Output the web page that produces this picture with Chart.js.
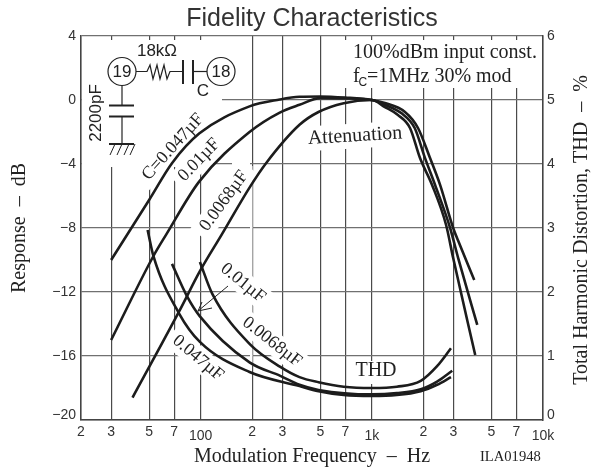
<!DOCTYPE html>
<html>
<head>
<meta charset="utf-8">
<style>
  html, body { margin: 0; padding: 0; background: #fff; }
  canvas { display: block; }
</style>
<script src="https://cdn.jsdelivr.net/npm/chart.js@4/dist/chart.umd.min.js"></script>
</head>
<body>
<canvas id="chart" width="597" height="469"></canvas>
<script>
// Tick labels
const xTickValues = [20, 30, 50, 70, 100, 200, 300, 500, 700, 1000, 2000, 3000, 5000, 7000, 10000];
const xTickLabels = ['2', '3', '5', '7', '100', '2', '3', '5', '7', '1k', '2', '3', '5', '7', '10k'];

// Response in dB
const attn047Freq = [30, 50, 68, 98, 193, 290, 378, 500, 700, 1000, 1192, 1562, 1861, 2188, 2505, 2987, 3195, 3966];
const attn047Db = [-10, -6.25, -3.95, -2.1, -0.4, 0.03, 0.2, 0.22, 0.15, 0, -0.19, -0.75, -1.75, -3.63, -5.31, -8, -8.8, -11.25];
const attn01Freq = [30, 53, 63, 98, 193, 288, 378, 500, 700, 1000, 1192, 1500, 1780, 2046, 2342, 2867, 3195, 4130];
const attn01Db = [-15, -9.75, -8.4, -5.1, -2, -0.8, -0.3, 0.12, 0.1, 0, -0.3, -0.85, -1.75, -3.63, -5.31, -8, -9.88, -14.06];
const attn0068Freq = [40, 75, 99, 133, 195, 241, 378, 488, 685, 1000, 1192, 1421, 1671, 1912, 2249, 2716, 2987, 4018];
const attn0068Db = [-18.6, -13.2, -10.7, -8.4, -5.4, -3.95, -1.55, -0.75, -0.2, 0, -0.44, -0.94, -1.75, -3.63, -5.31, -7.81, -9.88, -15.94];

// Distortion in %
const thd047Freq = [49, 53, 75, 99, 193, 378, 488, 685, 1000, 1400, 1930, 2405, 2900];
const thd047Pct = [2.97, 2.56, 1.66, 1.22, 0.75, 0.53, 0.45, 0.39, 0.375, 0.39, 0.45, 0.55, 0.67];
const thd01Freq = [68, 83, 99, 193, 292, 378, 488, 1000, 1400, 1930, 2405, 2950];
const thd01Pct = [2.44, 1.94, 1.62, 0.9, 0.69, 0.55, 0.47, 0.4, 0.42, 0.48, 0.6, 0.77];
const thd0068Freq = [99, 117, 193, 292, 378, 488, 685, 1000, 1400, 1930, 2405, 2900];
const thd0068Pct = [2.47, 1.97, 1.19, 0.83, 0.67, 0.59, 0.52, 0.5, 0.52, 0.61, 0.84, 1.12];

const SANS = '"Liberation Sans", Arial, sans-serif';
const SERIF = '"Liberation Serif", "Times New Roman", serif';
const INK = '#222';

const toPoints = (xs, ys) => xs.map((x, i) => ({ x: x, y: ys[i] }));

const curve = (xs, ys, axis) => ({
    data: toPoints(xs, ys),
    yAxisID: axis,
    borderColor: '#1c1c1c',
    borderWidth: 2.6,
    pointRadius: 0,
    cubicInterpolationMode: 'monotone',
    fill: false
});

// White patches that break the grid behind the text
const whiteBox = (ctx, x, y, w, h) => {
    ctx.fillStyle = '#fff';
    ctx.fillRect(x, y, w, h);
};

// Slanted curve label with its white backing
const slantLabel = (ctx, text, cx, cy, deg, w, size) => {
    ctx.save();
    ctx.translate(cx, cy);
    ctx.rotate(deg * Math.PI / 180);
    ctx.fillStyle = '#fff';
    ctx.fillRect(-w / 2, -size * 0.62, w, size * 1.24);
    ctx.fillStyle = INK;
    ctx.font = size + 'px ' + SERIF;
    ctx.textAlign = 'center';
    ctx.textBaseline = 'middle';
    ctx.fillText(text, 0, 0);
    ctx.restore();
};

const plainText = (ctx, text, x, y, font, align) => {
    ctx.fillStyle = INK;
    ctx.font = font;
    ctx.textAlign = align || 'left';
    ctx.textBaseline = 'middle';
    ctx.fillText(text, x, y);
};

const polyline = (ctx, pts, width) => {
    ctx.beginPath();
    ctx.lineWidth = width;
    ctx.strokeStyle = INK;
    pts.forEach((p, i) => i ? ctx.lineTo(p[0], p[1]) : ctx.moveTo(p[0], p[1]));
    ctx.stroke();
};

// The 19/18 pin network in the top left corner
const drawCircuit = (ctx) => {
    ctx.lineWidth = 1.2;
    ctx.strokeStyle = INK;
    [[122, 71.5], [221, 71.5]].forEach(c => {
        ctx.beginPath();
        ctx.arc(c[0], c[1], 14, 0, Math.PI * 2);
        ctx.stroke();
    });
    plainText(ctx, '19', 122, 72, '17px ' + SANS, 'center');
    plainText(ctx, '18', 221, 72, '17px ' + SANS, 'center');
    plainText(ctx, '18kΩ', 157, 51, '17px ' + SANS, 'center');
    plainText(ctx, 'C', 203, 91, '17px ' + SANS, 'center');

    polyline(ctx, [[136, 71.5], [147, 71.5], [150, 65], [153, 79], [157, 65], [160, 79], [164, 65], [167, 79], [170, 71.5], [183, 71.5]], 1.2);
    polyline(ctx, [[183, 60], [183, 84]], 2);
    polyline(ctx, [[193, 60], [193, 84]], 2);
    polyline(ctx, [[193, 71.5], [207, 71.5]], 1.2);

    polyline(ctx, [[122, 85.5], [122, 105]], 1.2);
    polyline(ctx, [[109, 105.5], [134, 105.5]], 2);
    polyline(ctx, [[109, 116.5], [134, 116.5]], 2);
    polyline(ctx, [[122, 116.5], [122, 144]], 1.2);
    polyline(ctx, [[109, 144], [134, 144]], 2);
    [115, 122, 129, 135].forEach(x => polyline(ctx, [[x, 144], [x - 5, 155]], 1));

    ctx.save();
    ctx.translate(96, 113);
    ctx.rotate(-Math.PI / 2);
    plainText(ctx, '2200pF', 0, 0, '17px ' + SANS, 'center');
    ctx.restore();
};

const notesPlugin = {
    id: 'notes',
    beforeDatasetsDraw(chart) {
        const ctx = chart.ctx;
        ctx.save();

        // grid breaks
        whiteBox(ctx, 82, 40, 168, 58);
        whiteBox(ctx, 82, 98, 140, 65);
        whiteBox(ctx, 82, 163, 131, 4);
        whiteBox(ctx, 232, 162, 18, 4);
        whiteBox(ctx, 250, 166, 2.5, 200);
        whiteBox(ctx, 345, 40, 196, 48);
        whiteBox(ctx, 353, 361, 46, 23);

        drawCircuit(ctx);

        slantLabel(ctx, 'C=0.047µF', 173, 147, -48, 96, 18);
        slantLabel(ctx, '0.01µF', 199, 160, -46, 64, 18);
        slantLabel(ctx, '0.0068µF', 224, 201, -54, 84, 18);
        slantLabel(ctx, '0.01µF', 243, 283, 39, 64, 18);
        slantLabel(ctx, '0.0068µF', 272, 342, 38, 84, 18);
        slantLabel(ctx, '0.047µF', 198, 358, 40, 72, 18);
        slantLabel(ctx, 'Attenuation', 355, 136, -3.5, 98, 20);

        plainText(ctx, 'THD', 376, 371, '20px ' + SERIF, 'center');
        plainText(ctx, '100%dBm input const.', 353, 53, '20px ' + SERIF);
        plainText(ctx, 'f', 353, 77, '20px ' + SERIF);
        plainText(ctx, 'C', 358.5, 83, '12px ' + SANS);
        plainText(ctx, '=1MHz 30% mod', 367, 77, '20px ' + SERIF);
        plainText(ctx, 'ILA01948', 480, 457, '14.6px ' + SERIF);

        // arrow from the 0.01µF label
        polyline(ctx, [[228, 286], [198, 311]], 1);
        polyline(ctx, [[202, 302], [198, 311], [212, 308]], 1);

        // right axis title reads upwards, the library would turn it the other way
        ctx.translate(582, 230);
        ctx.rotate(-Math.PI / 2);
        plainText(ctx, 'Total Harmonic Distortion, THD  –  %', 0, 0, '20px ' + SERIF, 'center');

        ctx.restore();
    }
};

new Chart(document.getElementById('chart').getContext('2d'), {
    type: 'line',
    data: {
        datasets: [
            curve(attn047Freq, attn047Db, 'y'),
            curve(attn01Freq, attn01Db, 'y'),
            curve(attn0068Freq, attn0068Db, 'y'),
            curve(thd047Freq, thd047Pct, 'y2'),
            curve(thd01Freq, thd01Pct, 'y2'),
            curve(thd0068Freq, thd0068Pct, 'y2')
        ]
    },
    plugins: [notesPlugin],
    options: {
        responsive: false,
        animation: false,
        layout: { padding: 0 },
        plugins: {
            legend: { display: false },
            tooltip: { enabled: false },
            title: {
                display: true,
                fullSize: false,
                text: 'Fidelity Characteristics',
                color: '#333',
                font: { family: SANS, size: 25, weight: 'normal', lineHeight: 1 },
                padding: { top: 7, bottom: 4 }
            }
        },
        scales: {
            x: {
                type: 'logarithmic',
                min: 20,
                max: 10000,
                afterBuildTicks: (axis) => {
                    axis.ticks = xTickValues.map(v => ({ value: v }));
                },
                afterFit: (axis) => { axis.height = 49; },
                grid: { color: '#4a4a4a', lineWidth: 1.2, drawTicks: false },
                border: { color: '#444', width: 1.5 },
                ticks: {
                    autoSkip: false,
                    maxRotation: 0,
                    padding: 4,
                    color: '#333',
                    callback: (value) => xTickLabels[xTickValues.indexOf(value)],
                    font: (c) => {
                        const big = c.tick && [100, 1000, 10000].includes(c.tick.value);
                        return { family: SANS, size: 14, lineHeight: big ? 1.8 : 1.2 };
                    }
                },
                title: {
                    display: true,
                    text: 'Modulation Frequency  –  Hz',
                    color: INK,
                    font: { family: SERIF, size: 20 },
                    padding: { top: 5, bottom: 0 }
                }
            },
            y: {
                position: 'left',
                min: -20,
                max: 4,
                afterFit: (axis) => { axis.width = 81; },
                grid: { color: '#707070', lineWidth: 1.3, drawTicks: false },
                border: { color: '#444', width: 1.5 },
                ticks: {
                    stepSize: 4,
                    padding: 5,
                    color: '#333',
                    font: (c) => ({ family: SANS, size: 14, lineHeight: c.tick && c.tick.value === -20 ? 0.75 : 1.2 }),
                    callback: (value) => {
                        const label = String(value).replace('-', '−');
                        return value === -20 ? [label, ''] : label;
                    }
                },
                title: {
                    display: true,
                    text: 'Response  –  dB',
                    color: INK,
                    font: { family: SERIF, size: 20 },
                    padding: { top: 8, bottom: 0 }
                }
            },
            y2: {
                position: 'right',
                min: 0,
                max: 6,
                afterFit: (axis) => { axis.width = 54; },
                grid: { display: false, drawTicks: false },
                border: { color: '#444', width: 1.5 },
                ticks: {
                    stepSize: 1,
                    padding: 4,
                    color: '#333',
                    font: (c) => ({ family: SANS, size: 14, lineHeight: c.tick && c.tick.value === 0 ? 0.75 : 1.2 }),
                    callback: (value) => value === 0 ? ['0', ''] : String(value)
                }
            }
        }
    }
});
</script>
</body>
</html>
